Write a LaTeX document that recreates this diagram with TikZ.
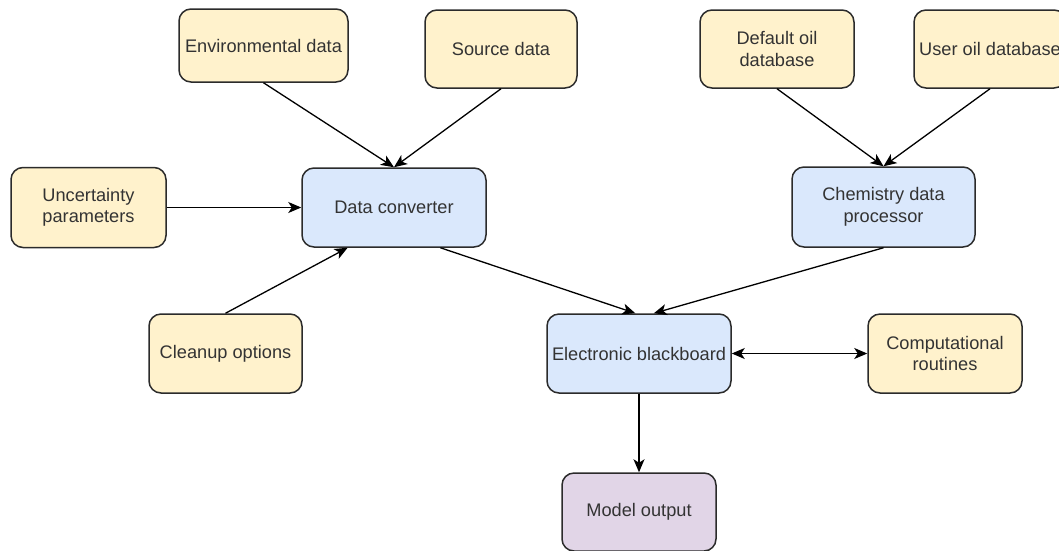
\documentclass[tikz,border=0pt]{standalone}
\usepackage{fontspec}
\setmainfont{Liberation Sans}
\usetikzlibrary{arrows.meta,calc}
\definecolor{yel}{HTML}{FFF2CC}
\definecolor{blu}{HTML}{DAE8FC}
\definecolor{pur}{HTML}{E1D5E7}
\definecolor{bord}{HTML}{2B2B2B}
\definecolor{txt}{HTML}{333333}
\begin{document}
\begin{tikzpicture}[x=1pt,y=-1pt,
  box/.style={draw=bord, line width=1.5pt, rounded corners=12pt, align=center,
    inner sep=0pt, text=txt, font=\fontsize{18.2}{21.5}\selectfont},
  ybox/.style={box, fill=yel},
  bbox/.style={box, fill=blu},
  pbox/.style={box, fill=pur},
  arr/.style={-{Stealth[length=13pt,width=11pt,inset=3.5pt]}, line width=1.3pt, draw=black},
  darr/.style={{Stealth[length=13pt,width=11pt,inset=3.5pt]}-{Stealth[length=13pt,width=11pt,inset=3.5pt]}, line width=1.3pt, draw=black}]
\useasboundingbox (0,0) rectangle (1059,550);
\clip (0,0) rectangle (1059,550);
\node[ybox, minimum width=169pt, minimum height=73pt] (env) at (263.5,45.5) {Environmental data};
\node[ybox, minimum width=152pt, minimum height=78pt] (src) at (501,49) {Source data};
\node[ybox, minimum width=154pt, minimum height=78pt] (def) at (777,49) {Default oil\\database};
\node[ybox, minimum width=152pt, minimum height=78pt] (usr) at (990,49) {User oil database};
\node[ybox, minimum width=155pt, minimum height=80pt] (unc) at (88.5,207.5) {Uncertainty\\parameters};
\node[bbox, minimum width=184pt, minimum height=79pt] (dc) at (394,207.5) {Data converter};
\node[bbox, minimum width=183pt, minimum height=80pt] (cdp) at (883.5,207) {Chemistry data\\processor};
\node[ybox, minimum width=153pt, minimum height=79pt] (clean) at (225.5,353.5) {Cleanup options};
\node[bbox, minimum width=184pt, minimum height=79pt] (eb) at (639,353.5) {Electronic blackboard};
\node[ybox, minimum width=154pt, minimum height=79pt] (cr) at (945,353.5) {Computational\\routines};
\node[pbox, minimum width=154pt, minimum height=78pt] (mo) at (639,512) {Model output};
\draw[arr] (env.south) -- (dc.north);
\draw[arr] (src.south) -- (dc.north);
\draw[arr] (def.south) -- (cdp.north);
\draw[arr] (usr.south) -- (cdp.north);
\draw[arr] (unc.east) -- (dc.west);
\draw[arr] (clean.north) -- ($(dc.south west)!0.25!(dc.south east)$);
\draw[arr] ($(dc.south west)!0.75!(dc.south east)$) -- ($(eb.north west)!0.48!(eb.north east)$);
\draw[arr] (cdp.south) -- ($(eb.north west)!0.58!(eb.north east)$);
\draw[darr] (eb.east) -- (cr.west);
\draw[arr] (eb.south) -- (mo.north);
\end{tikzpicture}
\end{document}
